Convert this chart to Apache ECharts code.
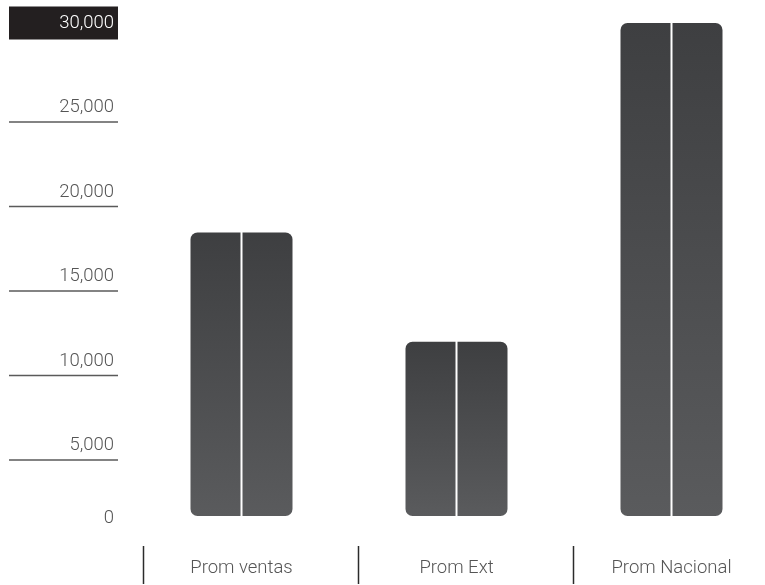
<!DOCTYPE html>
<html>
<head>
<meta charset="utf-8">
<script src="https://cdn.jsdelivr.net/npm/echarts@6/dist/echarts.min.js"></script>
<style>
  html, body { margin: 0; padding: 0; background: #ffffff; }
  #chart { width: 765px; height: 585px; }
</style>
</head>
<body>
<div id="chart"></div>
<script>
// Average values per group
const categories = ['Prom ventas', 'Prom Ext', 'Prom Nacional'];
const values = [17250, 10600, 30000];

// Value scale ticks and the text shown beside them
const tickValues = [0, 5000, 10000, 15000, 20000, 25000, 30000];
const tickLabels = ['0', '5,000', '10,000', '15,000', '20,000', '25,000', '30,000'];
// Ticks that get a rule drawn under their label
const ruleValues = [5000, 10000, 15000, 20000, 25000];

const FONT = 'Roboto';
const TEXT_GREY = '#555555';
const LABEL_SIZE = 18.5;

const barFill = new echarts.graphic.LinearGradient(0, 0, 0, 1, [
  { offset: 0, color: '#3e3f41' },
  { offset: 1, color: '#5a5b5d' }
]);

const chart = echarts.init(document.getElementById('chart'), null, { renderer: 'canvas' });

chart.setOption({
  animation: false,
  backgroundColor: '#ffffff',
  grid: [
    // bars (the last band runs a little past the right edge)
    { left: 134, width: 645, top: 23, bottom: 69, outerBoundsMode: 'none', containLabel: false },
    // label column on the left
    { left: 9, width: 109, top: 23, height: 507, outerBoundsMode: 'none', containLabel: false }
  ],
  xAxis: [
    {
      gridIndex: 0,
      type: 'category',
      data: categories,
      boundaryGap: true,
      axisLine: { show: false },
      axisTick: { show: false },
      axisLabel: {
        margin: 43,
        color: TEXT_GREY,
        fontFamily: FONT,
        fontWeight: 300,
        fontSize: LABEL_SIZE
      }
    },
    { gridIndex: 1, type: 'value', min: 0, max: 1, show: false }
  ],
  yAxis: [
    { gridIndex: 0, type: 'value', min: 0, max: 30000, show: false, splitLine: { show: false } },
    {
      gridIndex: 1,
      type: 'value',
      position: 'right',
      min: 0,
      max: 30000,
      interval: 5000,
      axisLine: { show: false },
      axisTick: { show: false },
      splitLine: { show: false },
      axisLabel: {
        inside: true,
        margin: 0,
        formatter: function (v) {
          const idx = tickValues.indexOf(v);
          const txt = idx >= 0 ? tickLabels[idx] : '';
          if (v === 30000) return '{top|' + txt + '}';
          if (v === 0) return '{zero|' + txt + '}';
          return '{n|' + txt + '}';
        },
        rich: {
          n: {
            color: TEXT_GREY, fontFamily: FONT, fontWeight: 300, fontSize: LABEL_SIZE,
            padding: [0, 4, 0, 0]
          },
          zero: {
            color: TEXT_GREY, fontFamily: FONT, fontWeight: 300, fontSize: LABEL_SIZE,
            padding: [0, 4, 24, 0]
          },
          top: {
            color: '#ffffff', fontFamily: FONT, fontWeight: 300, fontSize: LABEL_SIZE,
            backgroundColor: '#231f20',
            width: 105, align: 'right', lineHeight: 16,
            padding: [7, 4, 7, 0]
          }
        }
      }
    }
  ],
  series: [
    {
      type: 'bar',
      xAxisIndex: 0,
      yAxisIndex: 0,
      data: values,
      barWidth: 50,
      barGap: '4%',
      itemStyle: { color: barFill, borderRadius: [7, 0, 0, 7] }
    },
    {
      type: 'bar',
      xAxisIndex: 0,
      yAxisIndex: 0,
      data: values,
      barWidth: 50,
      barGap: '4%',
      itemStyle: { color: barFill, borderRadius: [0, 7, 7, 0] }
    },
    {
      // rules under the value labels
      type: 'custom',
      xAxisIndex: 1,
      yAxisIndex: 1,
      data: ruleValues.map(function (v) { return [0, v]; }),
      encode: { x: 0, y: 1 },
      silent: true,
      renderItem: function (params, api) {
        const cs = params.coordSys;
        const y = api.coord([0, api.value(1)])[1] + 14.5;
        return {
          type: 'line',
          shape: { x1: cs.x, y1: y, x2: cs.x + cs.width, y2: y },
          style: { stroke: '#5a5a5a', lineWidth: 1.5 }
        };
      }
    },
    {
      // separators between category labels
      type: 'custom',
      xAxisIndex: 0,
      yAxisIndex: 0,
      data: categories.map(function (c, i) { return [i, 0]; }),
      encode: { x: 0, y: 1 },
      silent: true,
      clip: false,
      renderItem: function (params, api) {
        const p = api.coord([api.value(0), 0]);
        const bw = api.size([1, 0])[0];
        const x = Math.round(p[0] - bw / 2 + 9) + 0.5;
        return {
          type: 'line',
          shape: { x1: x, y1: p[1] + 30, x2: x, y2: p[1] + 68 },
          style: { stroke: '#2b2b2b', lineWidth: 1.5 }
        };
      }
    }
  ]
});
</script>
</body>
</html>
